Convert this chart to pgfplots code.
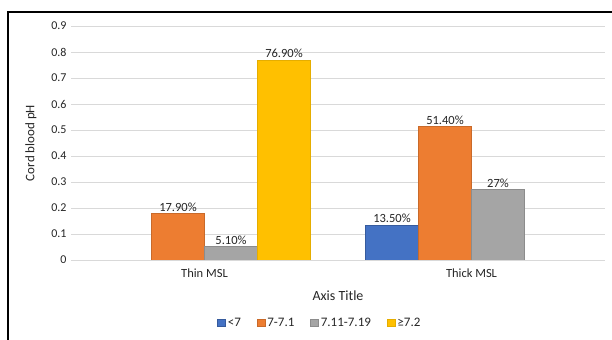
\documentclass[border=0pt]{standalone}
\usepackage{fontspec}
\setmainfont{Carlito}
\usepackage{pgfplots}
\pgfplotsset{compat=1.18}

\definecolor{xlblue}{HTML}{4472C4}
\definecolor{xlorange}{HTML}{ED7D31}
\definecolor{xlgray}{HTML}{A5A5A5}
\definecolor{xlyellow}{HTML}{FFC000}
\definecolor{gridgray}{HTML}{D9D9D9}
\definecolor{txt}{HTML}{262626}

\begin{document}
\begin{tikzpicture}
\useasboundingbox (0bp,0bp) rectangle (612bp,340bp);
\fill[white] (0bp,0bp) rectangle (612bp,340bp);
% chart area frame (left and top edges)
\draw[line width=2bp, black] (8bp,-5bp) -- (8bp,328bp) -- (620bp,328bp);
\begin{axis}[
  at={(71bp,80bp)}, anchor=south west,
  scale only axis, width=534bp, height=234bp,
  xmin=-0.5, xmax=1.5, ymin=0, ymax=0.9,
  ybar=0pt, bar width=53bp,
  xtick={0,1}, xticklabels={Thin MSL, Thick MSL},
  ytick={0,0.1,0.2,0.3,0.4,0.5,0.6,0.7,0.8,0.9},
  yticklabels={0,0.1,0.2,0.3,0.4,0.5,0.6,0.7,0.8,0.9},
  axis line style={draw=none}, tick style={draw=none},
  ymajorgrids, grid style={color=gridgray, line width=0.9bp},
  ticklabel style={font=\fontsize{12bp}{14bp}\selectfont, text=txt},
  yticklabel style={anchor=east, xshift=-1bp},
  xticklabel style={font=\fontsize{12.5bp}{14bp}\selectfont, anchor=center, yshift=-9bp},
  xlabel={Axis Title},
  xlabel style={font=\fontsize{14bp}{16bp}\selectfont, text=txt,
    at={(axis description cs:0.5,-0.154)}, anchor=center},
  ylabel={Cord blood pH},
  ylabel style={font=\fontsize{13bp}{15bp}\selectfont, text=txt,
    at={(axis description cs:-0.075,0.5)}, anchor=center},
  nodes near coords, point meta=explicit symbolic,
  every node near coord/.append style={font=\fontsize{12.5bp}{14bp}\selectfont, text=txt, yshift=-1.5bp},
  legend columns=4,
  legend style={at={(axis description cs:0.466,-0.269)}, anchor=center,
    draw=none, font=\fontsize{13bp}{15bp}\selectfont, text=txt,
    /tikz/every even column/.append style={column sep=14bp}},
  legend image code/.code={\draw[#1] (0bp,-3.9bp) rectangle (7.8bp,3.9bp);},
]
\addplot[fill=xlblue, draw=xlblue!80!black, line width=0.7bp]
  coordinates {(1,0.135) [13.50\%]};
\addplot[fill=xlorange, draw=xlorange!85!black, line width=0.7bp]
  coordinates {(0,0.179) [17.90\%] (1,0.514) [51.40\%]};
\addplot[fill=xlgray, draw=xlgray!85!black, line width=0.7bp]
  coordinates {(0,0.051) [5.10\%] (1,0.27) [27\%]};
\addplot[fill=xlyellow, draw=xlyellow!90!black, line width=0.7bp]
  coordinates {(0,0.769) [76.90\%]};
\legend{<7, 7-7.1, 7.11-7.19, ≥7.2}
\end{axis}
\end{tikzpicture}
\end{document}
